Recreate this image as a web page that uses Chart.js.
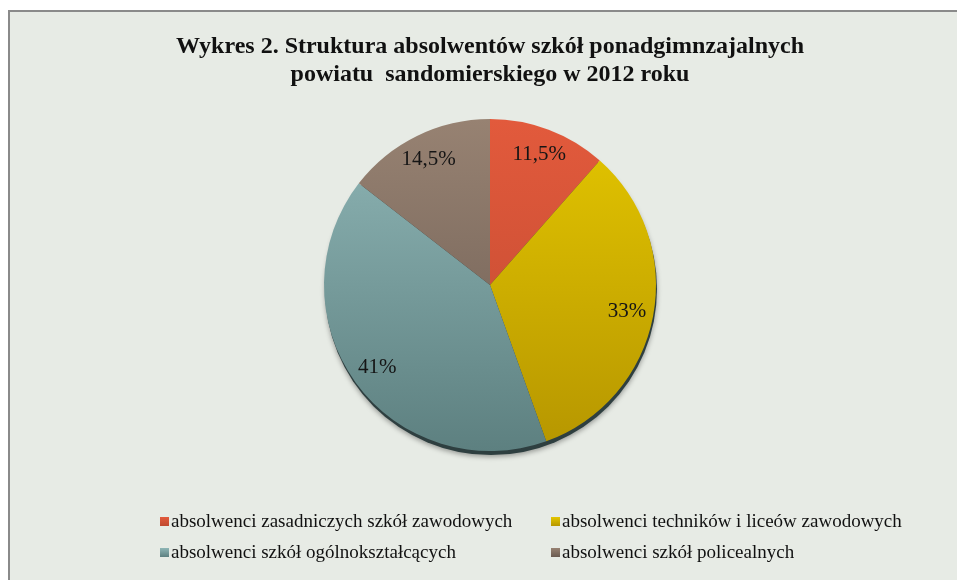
<!DOCTYPE html>
<html>
<head>
<meta charset="utf-8">
<script src="https://cdn.jsdelivr.net/npm/chart.js@4.4.1/dist/chart.umd.min.js"></script>
<style>
  body { margin: 0; background: #fff; overflow: hidden; }
  #frame {
    position: absolute; left: 8px; top: 10px; width: 960px; height: 580px;
    background: #e7ebe5; border-left: 2px solid #8a8a8a; border-top: 2px solid #8a8a8a;
  }
  #pie { position: absolute; left: 0; top: 0; }
  #legend {
    position: absolute; left: 0; top: 0; width: 100%; height: 100%;
    font-family: "Liberation Serif", "Times New Roman", serif; font-size: 19px; color: #111;
  }
  .item { position: absolute; white-space: nowrap; line-height: 20px; }
  .box { display: inline-block; width: 9px; height: 9px; margin-right: 2px; vertical-align: 1px; }
</style>
</head>
<body>
<div id="frame">
  <canvas id="pie" width="947" height="568"></canvas>
  <div id="legend"></div>
</div>
<script>
// Chart data
const categories = [
  'absolwenci zasadniczych szkół zawodowych',
  'absolwenci techników i liceów zawodowych',
  'absolwenci szkół ogólnokształcących',
  'absolwenci szkół policealnych'
];
const shares = [11.5, 33, 41, 14.5];
const shareLabels = ['11,5%', '33%', '41%', '14,5%'];
const titleLines = [
  'Wykres 2. Struktura absolwentów szkół ponadgimnzajalnych',
  'powiatu  sandomierskiego w 2012 roku'
];

// top / bottom shades for each slice
const topColors = ['#e25a3c', '#e4c600', '#8fb6b6', '#978272'];
const bottomColors = ['#bf4930', '#b69600', '#5d8080', '#6a5a50'];

const pieRadius = 166;

function sliceFill(context) {
  const i = context.dataIndex;
  const area = context.chart.chartArea;
  if (!area) return topColors[i];
  const cy = (area.top + area.bottom) / 2;
  const g = context.chart.ctx.createLinearGradient(0, cy - pieRadius, 0, cy + pieRadius);
  g.addColorStop(0, topColors[i]);
  g.addColorStop(1, bottomColors[i]);
  return g;
}

// dark rim under the pie
const pieShadow = {
  id: 'pieShadow',
  beforeDatasetsDraw(chart) {
    const arc = chart.getDatasetMeta(0).data[0];
    if (!arc) return;
    const c = chart.ctx;
    c.save();
    c.shadowColor = 'rgba(0,0,0,0.35)';
    c.shadowBlur = 5;
    c.shadowOffsetY = 2;
    c.fillStyle = '#2e3f40';
    c.beginPath();
    c.arc(arc.x + 1, arc.y + 4, arc.outerRadius, 0, Math.PI * 2);
    c.fill();
    c.restore();
  }
};

// percent labels inside the slices
const sliceLabels = {
  id: 'sliceLabels',
  afterDatasetsDraw(chart) {
    const c = chart.ctx;
    const meta = chart.getDatasetMeta(0);
    c.save();
    c.font = '21px "Liberation Serif", "Times New Roman", serif';
    c.fillStyle = '#151515';
    c.textAlign = 'center';
    c.textBaseline = 'middle';
    meta.data.forEach((arc, i) => {
      const mid = (arc.startAngle + arc.endAngle) / 2;
      const r = arc.outerRadius * 0.84;
      c.fillText(shareLabels[i], arc.x + Math.cos(mid) * r, arc.y + Math.sin(mid) * r);
    });
    c.restore();
  }
};

const ctx = document.getElementById('pie').getContext('2d');
const chart = new Chart(ctx, {
  type: 'pie',
  data: {
    labels: categories,
    datasets: [{
      data: shares,
      backgroundColor: sliceFill,
      borderWidth: 0,
      radius: pieRadius
    }]
  },
  options: {
    responsive: false,
    animation: false,
    layout: { padding: { left: 13, right: 0, top: 0, bottom: 109 } },
    plugins: {
      legend: { display: false },
      tooltip: { enabled: false },
      title: {
        display: true,
        text: titleLines,
        color: '#111',
        font: { family: '"Liberation Serif", "Times New Roman", serif', size: 24, weight: 'bold', lineHeight: 1.17 },
        padding: { top: 21, bottom: 10 }
      }
    }
  },
  plugins: [pieShadow, sliceLabels]
});

// legend in two columns, built from the same arrays
const legendPos = [[150, 499], [541, 499], [150, 530], [541, 530]];
const legend = document.getElementById('legend');
categories.forEach((name, i) => {
  const el = document.createElement('div');
  el.className = 'item';
  el.style.left = legendPos[i][0] + 'px';
  el.style.top = legendPos[i][1] + 'px';
  el.innerHTML = '<span class="box" style="background:linear-gradient(' +
    topColors[i] + ',' + bottomColors[i] + ')"></span>' + name;
  legend.appendChild(el);
});
</script>
</body>
</html>
